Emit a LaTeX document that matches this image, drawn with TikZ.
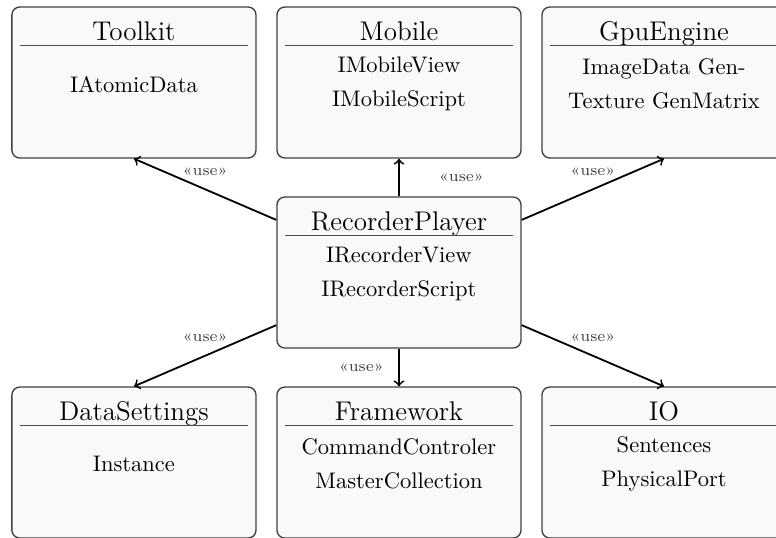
\documentclass[tikz,border=0pt]{standalone}

\newlength{\classwd}
\setlength{\classwd}{3.56cm}
% title, rule and body of one class box
\newcommand{\classtext}[2]{%
  \parbox[c][67pt][t]{\classwd}{\centering
    \rule{0pt}{15pt}\smash{\large #1}\par
    \nointerlineskip\vskip1.9pt{\color{black!70}\hrule}\nointerlineskip
    \vbox to 33.8pt{\vfil\baselineskip=15pt #2\par\vfil}%
    \vfill}}

\tikzset{
  classbox/.style={draw=black!75, line width=0.6pt, fill=black!2.5,
    rounded corners=3.5pt, inner xsep=3.55pt, inner ysep=0pt,
    minimum width=3.81cm, minimum height=2.357cm},
  uses/.style={->, thick},
  uselabel/.style={font=\scriptsize, text=black!75}
}

\begin{document}
\begin{tikzpicture}
	\useasboundingbox (-6.228,-4.129) rectangle (5.885,4.254);
	% centre
	\node[classbox] (rp) at (0,0) {\classtext{RecorderPlayer}{IRecorderView\\IRecorderScript}};
	% top row
	\node[classbox] (toolkit) at (-4.137,2.966) {\classtext{Toolkit}{IAtomicData}};
	\node[classbox] (mobile) at (0,2.966) {\classtext{Mobile}{IMobileView\\IMobileScript}};
	\node[classbox] (gpu) at (4.137,2.966) {\classtext{GpuEngine}{ImageData Gen-\\Texture GenMatrix}};
	% bottom row
	\node[classbox] (settings) at (-4.137,-2.966) {\classtext{DataSettings}{Instance}};
	\node[classbox] (framework) at (0,-2.966) {\classtext{Framework}{CommandControler\\MasterCollection}};
	\node[classbox] (io) at (4.137,-2.966) {\classtext{IO}{Sentences\\PhysicalPort}};
	% dependencies
	\draw[uses] (rp) -- (toolkit.south) node[uselabel, midway, above=2.5pt] {«use»};
	\draw[uses] (rp) -- (mobile) node[uselabel, midway, right=14pt] {«use»};
	\draw[uses] (rp) -- (gpu.south) node[uselabel, midway, above=2.5pt] {«use»};
	\draw[uses] (rp) -- (settings.north) node[uselabel, midway, above=2.5pt] {«use»};
	\draw[uses] (rp) -- (framework) node[uselabel, midway, left=3pt] {«use»};
	\draw[uses] (rp) -- (io.north) node[uselabel, midway, above=2.5pt] {«use»};
\end{tikzpicture}
\end{document}
